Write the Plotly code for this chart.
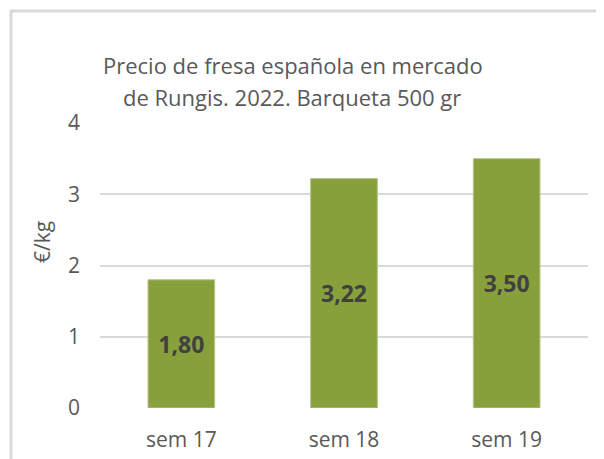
import plotly.graph_objects as go

categories = ["sem 17", "sem 18", "sem 19"]
values = [1.80, 3.22, 3.50]
labels = ["1,80", "3,22", "3,50"]
y_ticks = [0, 1, 2, 3, 4]

W, H = 604, 459
OFF = 8  # default page body margin
L, R, T, B = 100 - OFF, 16 + OFF, 123 - OFF, 51 + OFF
pw, ph = W - L - R, H - T - B

def px(x):
    return (x - OFF - L) / pw

def py(y):
    return (H - B - (y - OFF)) / ph

fig = go.Figure(go.Bar(
    x=categories, y=values, text=labels,
    textposition="inside", insidetextanchor="middle",
    textangle=0,
    textfont=dict(family="Open Sans", size=23, color="#404040", weight="bold"),
    marker=dict(color="#88A03C", line=dict(color="#B5C68A", width=1)),
    hoverinfo="skip",
))

fig.update_layout(
    width=W, height=H,
    margin=dict(l=L, r=R, t=T, b=B),
    paper_bgcolor="white", plot_bgcolor="white",
    bargap=0.59,
    showlegend=False,
    font=dict(family="Open Sans", color="#595959"),
    xaxis=dict(showgrid=False, showline=False, ticks="", ticklabelstandoff=17,
               tickfont=dict(size=21, color="#595959")),
    yaxis=dict(range=[0, 4], tickvals=y_ticks, showgrid=True,
               gridcolor="#D9D9D9", gridwidth=2, zeroline=False, showline=False,
               ticks="", ticklabelstandoff=19,
               tickfont=dict(size=21, color="#595959")),
    shapes=[
        dict(type="line", xref="paper", yref="paper",
             x0=px(11), x1=px(11), y0=py(10), y1=py(480),
             line=dict(color="#D9D9D9", width=3)),
        dict(type="line", xref="paper", yref="paper",
             x0=px(10), x1=px(630), y0=py(11), y1=py(11),
             line=dict(color="#D9D9D9", width=3)),
    ],
    annotations=[
        dict(text="Precio de fresa española en mercado", xref="paper", yref="paper",
             x=px(293), y=py(65), xanchor="center", yanchor="middle",
             showarrow=False, font=dict(size=22, color="#595959")),
        dict(text="de Rungis. 2022. Barqueta 500 gr", xref="paper", yref="paper",
             x=px(292), y=py(97), xanchor="center", yanchor="middle",
             showarrow=False, font=dict(size=22, color="#595959")),
        dict(text="€/kg", xref="paper", yref="paper",
             x=px(42), y=py(242), xanchor="center", yanchor="middle",
             textangle=-90, showarrow=False, font=dict(size=21, color="#595959")),
    ],
)

fig.write_html("out.html")
